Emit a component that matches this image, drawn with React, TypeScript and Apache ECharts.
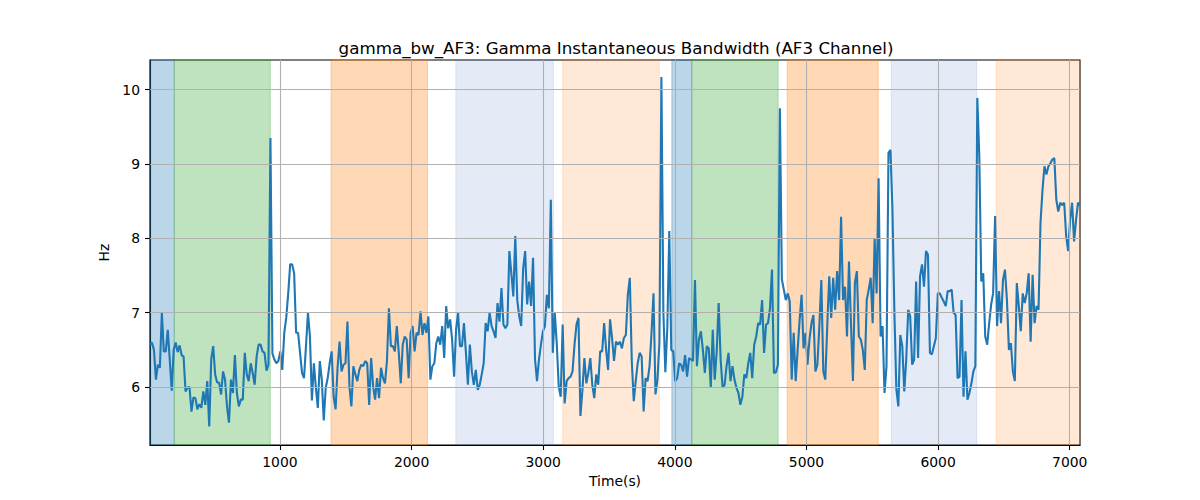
import React, { useEffect, useRef } from "react";
import * as echarts from "echarts";

const TITLE = "gamma_bw_AF3: Gamma Instantaneous Bandwidth (AF3 Channel)";
const X_NAME = "Time(s)";
const Y_NAME = "Hz";
const X_TICKS = [1000, 2000, 3000, 4000, 5000, 6000, 7000];
const Y_TICKS = [6, 7, 8, 9, 10];
const X_MIN = 13;
const X_MAX = 7078;
const Y_MIN = 5.22;
const Y_MAX = 10.4;

// uniform sampling of the bandwidth signal
const T_START = 13;
const T_STEP = 15;

const bwPart1 = [
  6.57, 6.6, 6.5, 6.1, 6.3, 6.26, 7.0, 6.48, 6.48, 6.77,
  6.37, 5.95, 6.5, 6.6, 6.47, 6.56, 6.43, 6.41, 5.94, 5.99,
  6.0, 5.67, 5.86, 5.85, 5.7, 5.77, 5.72, 5.94, 5.76, 6.08,
  5.47, 6.37, 6.55, 6.17, 6.06, 6.06, 5.9, 6.21, 6.1, 5.74,
  5.52, 6.1, 5.92, 6.43, 5.92, 5.74, 5.83, 5.83, 6.46, 6.17,
  6.08, 6.32, 6.19, 6.03, 6.41, 6.57, 6.57, 6.48, 6.46, 6.22,
  6.3, 9.35, 6.45, 6.37, 6.32, 6.35, 6.48, 6.23, 6.73, 6.93,
  7.26, 7.65, 7.65, 7.53, 6.73, 6.73, 6.46, 6.19, 6.12, 6.55,
  7.0, 6.68,
];
const bwPart2 = [
  5.82, 6.32, 5.99, 5.72, 6.35, 6.1, 5.55, 5.99, 6.12, 6.32,
  6.48, 5.87, 5.7, 6.26, 6.61, 6.21, 6.3, 6.32, 6.88, 6.01,
  5.74, 6.28, 6.17, 6.08, 6.23, 6.3, 6.28, 6.35, 6.32, 5.76,
  6.39, 6.01, 5.83, 6.12, 5.85, 6.26, 6.12, 6.05, 6.35, 7.06,
  6.55, 6.55, 6.48, 6.82, 6.46, 6.05, 6.57, 6.68, 6.64, 6.12,
  6.73, 6.82, 6.48, 6.73, 6.7, 7.02, 6.7, 6.86, 6.73, 6.95,
  6.1, 6.28, 6.32, 6.59, 6.68, 6.57, 6.82, 6.39, 7.09, 6.79,
  6.91, 6.64, 6.14, 6.77, 7.0, 6.55, 6.55, 6.86,
];
const bwPart3 = [
  6.46, 6.03, 6.57, 6.21, 6.03, 6.23, 5.96, 6.03, 6.17, 6.32,
  6.86, 6.75, 7.0, 6.82, 6.75, 6.66, 7.13, 6.88, 7.33, 6.84,
  6.79, 6.84, 7.83, 7.53, 7.22, 8.03, 7.17, 6.95, 6.82, 7.6,
  7.83, 7.11, 7.42, 7.09, 7.74, 6.37, 6.08, 6.37, 6.57, 6.75,
  6.82, 7.24, 7.06, 8.52, 6.46, 7.0, 6.59, 6.01, 5.87, 6.84,
  5.78, 6.08, 6.12, 6.14, 6.21, 6.57, 6.84, 6.93, 5.61, 5.96,
  6.39, 6.05, 6.19, 6.39, 6.03, 5.85, 6.17, 6.03, 6.48, 6.48,
  6.86, 6.5, 6.23, 6.91, 6.66, 6.35, 6.61, 6.57, 6.61,
];
const bwPart4 = [
  6.52, 6.66, 6.7, 7.24, 7.47, 6.35, 5.81, 6.08, 6.32, 6.46,
  6.41, 5.67, 6.12, 6.08, 6.28, 6.73, 7.26, 5.9, 6.1, 6.6,
  10.17, 7.0, 6.2, 6.8, 8.1, 6.5, 6.48,
  6.08, 6.12, 6.32, 6.3, 6.21, 6.43, 6.14, 6.39, 6.37, 6.35,
  7.44, 6.28, 6.64, 6.75, 6.5, 6.19, 6.55, 6.52, 5.99, 6.77,
  6.1, 6.48, 7.13, 6.37, 5.99, 6.03, 6.28, 6.46, 6.08, 6.28,
  6.1, 5.99, 5.92, 5.76, 5.87, 6.17, 6.12, 6.32, 6.46, 6.12,
  6.57, 6.68, 6.86, 6.84, 7.17, 6.46, 6.84, 6.86, 7.06, 7.58,
  6.19,
];
const bwPart5 = [
  6.2, 6.3, 9.75, 7.45, 7.31, 7.17, 7.26, 7.15, 6.1, 6.73,
  6.08, 6.5, 6.9, 7.24, 6.52, 6.73, 6.3, 6.64, 6.86, 6.97,
  6.21, 6.3, 6.82, 7.44, 6.21, 6.1, 6.82, 7.49, 6.93, 7.47,
  7.04, 7.56, 7.17, 8.29, 7.17, 7.35, 6.68, 7.69, 6.86, 6.08,
  7.4, 7.56, 6.68, 6.64, 6.5, 6.23, 7.17, 7.31, 7.47, 6.86,
  8.0, 7.26, 8.81, 6.68, 6.82, 5.92, 6.28, 9.15, 9.19, 8.4,
  7.0, 5.97, 5.74, 6.7, 6.55, 5.94, 6.37, 7.04, 6.95, 6.3,
  6.37, 7.42, 6.39, 7.49, 7.65, 7.35, 7.83, 7.78, 6.46,
];
const bwPart6 = [
  6.44, 6.55, 6.66, 7.26, 7.26, 7.2, 7.15, 7.09, 7.29, 7.29,
  7.31, 7.0, 6.97, 6.12, 6.14, 7.17, 5.87, 6.48, 5.83, 5.92,
  6.05, 6.21, 6.28, 9.89, 9.1, 7.42, 7.53, 6.68, 6.57, 6.86,
  7.11, 7.26, 8.3, 6.82, 7.29, 6.86, 7.44, 7.58, 7.17, 6.5,
  6.59, 6.21, 6.08, 7.4, 7.09, 6.75, 7.26, 7.13, 7.26, 7.53,
  6.61, 7.51, 6.86, 7.09, 7.04, 8.21, 8.65, 8.97, 8.86, 8.97,
  9.01, 9.06, 9.08, 8.52, 8.36, 8.48, 8.45, 8.48, 8.03, 7.83,
  8.25, 8.48, 7.96, 8.25, 8.48, 8.45,
];

// shaded stage intervals (seconds)
const SPAN_STARTS = [13, 197, 1388, 2336, 3148, 3977, 4129, 4853, 5644, 6441];
const SPAN_ENDS = [197, 927, 2121, 3078, 3882, 4129, 4785, 5545, 6294, 7078];
const SPAN_KINDS = ["a", "b", "c", "d", "e", "a", "b", "c", "d", "e"];

const SPAN_COLORS: Record<string, string> = {
  a: "rgba(31,119,180,0.3)",
  b: "rgba(44,160,44,0.3)",
  c: "rgba(255,127,14,0.3)",
  d: "rgba(70,110,190,0.14)",
  e: "rgba(255,127,14,0.17)",
};

const FONT = "DejaVu Sans";

export default function App() {
  const ref = useRef<HTMLDivElement>(null);

  useEffect(() => {
    if (!ref.current) return;
    const chart = echarts.init(ref.current, undefined, { renderer: "svg" });
    const values = [...bwPart1, ...bwPart2, ...bwPart3, ...bwPart4, ...bwPart5, ...bwPart6];
    const lineData = values.map((v, i) => [T_START + i * T_STEP, v]);

    const spanData = SPAN_STARTS.map((s, i) => [
      {
        xAxis: s,
        itemStyle: {
          color: SPAN_COLORS[SPAN_KINDS[i]],
          borderColor: SPAN_COLORS[SPAN_KINDS[i]],
          borderWidth: 1,
        },
      },
      { xAxis: SPAN_ENDS[i] },
    ]);

    const gridLines = [
      ...X_TICKS.map((v) => ({ xAxis: v })),
      ...Y_TICKS.map((v) => ({ yAxis: v })),
    ];

    chart.setOption({
      animation: false,
      backgroundColor: "#ffffff",
      title: {
        text: TITLE,
        left: 611,
        top: 34,
        textAlign: "center",
        textStyle: { fontFamily: FONT, fontSize: 16.7, fontWeight: "normal", color: "#000" },
      },
      grid: {
        left: 150,
        right: 120,
        top: 60,
        bottom: 55,
        show: true,
        borderColor: "#000",
        borderWidth: 1.1,
        backgroundColor: "transparent",
      },
      xAxis: {
        type: "value",
        min: X_MIN,
        max: X_MAX,
        name: X_NAME,
        nameLocation: "middle",
        nameGap: 29,
        nameTextStyle: { fontFamily: FONT, fontSize: 13.9, color: "#000" },
        axisLine: { show: true, lineStyle: { color: "#000", width: 1.1 } },
        axisTick: {
          show: true,
          customValues: X_TICKS,
          length: 5,
          inside: false,
          lineStyle: { color: "#000", width: 1.1 },
        },
        axisLabel: {
          customValues: X_TICKS,
          margin: 10,
          fontFamily: FONT,
          fontSize: 13.9,
          color: "#000",
          formatter: (v: number) => String(Math.round(v)),
        },
        splitLine: { show: false },
      },
      yAxis: {
        type: "value",
        min: Y_MIN,
        max: Y_MAX,
        name: Y_NAME,
        nameLocation: "middle",
        nameGap: 32,
        nameRotate: 90,
        nameTextStyle: { fontFamily: FONT, fontSize: 13.9, color: "#000" },
        axisLine: { show: true, lineStyle: { color: "#000", width: 1.1 } },
        axisTick: {
          show: true,
          customValues: Y_TICKS,
          length: 5,
          inside: false,
          lineStyle: { color: "#000", width: 1.1 },
        },
        axisLabel: {
          customValues: Y_TICKS,
          margin: 10,
          fontFamily: FONT,
          fontSize: 13.9,
          color: "#000",
          formatter: (v: number) => String(Math.round(v)),
        },
        splitLine: { show: false },
      },
      series: [
        {
          type: "line",
          name: "spans",
          data: [],
          z: 1,
          silent: true,
          markArea: { silent: true, data: spanData },
        },
        {
          type: "line",
          name: "grid",
          data: [],
          z: 2,
          silent: true,
          markLine: {
            silent: true,
            symbol: ["none", "none"],
            label: { show: false },
            lineStyle: { color: "#b0b0b0", width: 1.1, type: "solid" },
            emphasis: { disabled: true },
            data: gridLines,
          },
        },
        {
          type: "line",
          name: "gamma_bw_AF3",
          data: lineData,
          z: 3,
          showSymbol: false,
          symbol: "none",
          lineStyle: { color: "#1f77b4", width: 2.1 },
          itemStyle: { color: "#1f77b4" },
        },
      ],
    });

    return () => chart.dispose();
  }, []);

  return (
    <div
      ref={ref}
      style={{ position: "absolute", left: 0, top: 0, width: 1200, height: 500 }}
    />
  );
}
